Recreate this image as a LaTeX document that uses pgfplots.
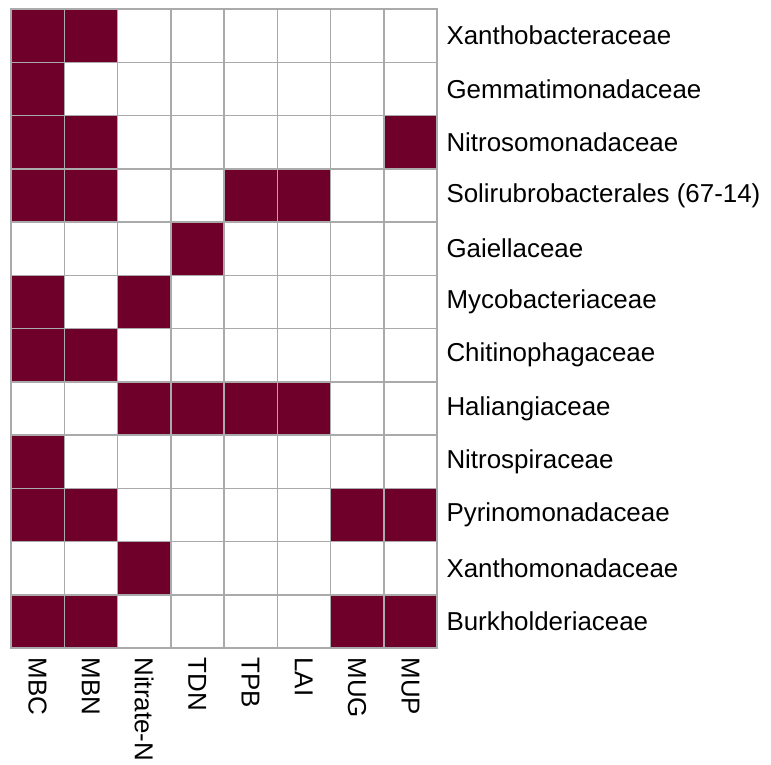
\documentclass[border=0pt]{standalone}
\usepackage{pgfplots}
\pgfplotsset{compat=1.18}
\usepackage{fontspec}
\setmainfont{Liberation Sans}
\definecolor{maroon}{RGB}{110,0,42}
\definecolor{gridgray}{RGB}{170,170,170}

\pgfplotstableread{
x y c
0 0 1
1 0 1
2 0 0
3 0 0
4 0 0
5 0 0
6 0 0
7 0 0
0 1 1
1 1 0
2 1 0
3 1 0
4 1 0
5 1 0
6 1 0
7 1 0
0 2 1
1 2 1
2 2 0
3 2 0
4 2 0
5 2 0
6 2 0
7 2 1
0 3 1
1 3 1
2 3 0
3 3 0
4 3 1
5 3 1
6 3 0
7 3 0
0 4 0
1 4 0
2 4 0
3 4 1
4 4 0
5 4 0
6 4 0
7 4 0
0 5 1
1 5 0
2 5 1
3 5 0
4 5 0
5 5 0
6 5 0
7 5 0
0 6 1
1 6 1
2 6 0
3 6 0
4 6 0
5 6 0
6 6 0
7 6 0
0 7 0
1 7 0
2 7 1
3 7 1
4 7 1
5 7 1
6 7 0
7 7 0
0 8 1
1 8 0
2 8 0
3 8 0
4 8 0
5 8 0
6 8 0
7 8 0
0 9 1
1 9 1
2 9 0
3 9 0
4 9 0
5 9 0
6 9 1
7 9 1
0 10 0
1 10 0
2 10 1
3 10 0
4 10 0
5 10 0
6 10 0
7 10 0
0 11 1
1 11 1
2 11 0
3 11 0
4 11 0
5 11 0
6 11 1
7 11 1
}\assoc

\begin{document}
\begin{tikzpicture}[x=1bp,y=1bp]
  \begin{axis}[
      name=ax,
      anchor=south west,
      at={(0,0)},
      scale only axis,
      width=426bp, height=639bp,
      xmin=-0.5, xmax=7.5,
      ymin=-0.5, ymax=11.5,
      y dir=reverse,
      axis on top,
      colormap={wm}{color=(white) color=(maroon)},
      point meta min=0, point meta max=1,
      xtick={0,...,7},
      xticklabels={MBC,MBN,Nitrate-N,TDN,TPB,LAI,MUG,MUP},
      ytick={0,...,11},
      yticklabels={Xanthobacteraceae,Gemmatimonadaceae,Nitrosomonadaceae,
        Solirubrobacterales (67-14),Gaiellaceae,Mycobacteriaceae,
        Chitinophagaceae,Haliangiaceae,Nitrospiraceae,Pyrinomonadaceae,
        Xanthomonadaceae,Burkholderiaceae},
      minor xtick={-0.5,0.5,...,7.5},
      minor ytick={-0.5,0.5,...,11.5},
      minor grid style={gridgray, line width=1.5bp},
      xminorgrids, yminorgrids,
      major tick length=0pt, minor tick length=0pt,
      axis line style={gridgray, line width=1.5bp},
      yticklabel pos=right,
      yticklabel style={anchor=west, xshift=6bp, font=\fontsize{26}{30}\selectfont},
      xticklabel style={rotate=-90, anchor=west, xshift=6bp, font=\fontsize{26}{30}\selectfont},
      xticklabel pos=bottom,
    ]
    \addplot[matrix plot*, mesh/cols=8, point meta=explicit] table[x=x, y=y, meta=c] {\assoc};
  \end{axis}
  \path (-11,-111) -- (760,648);
\end{tikzpicture}
\end{document}
